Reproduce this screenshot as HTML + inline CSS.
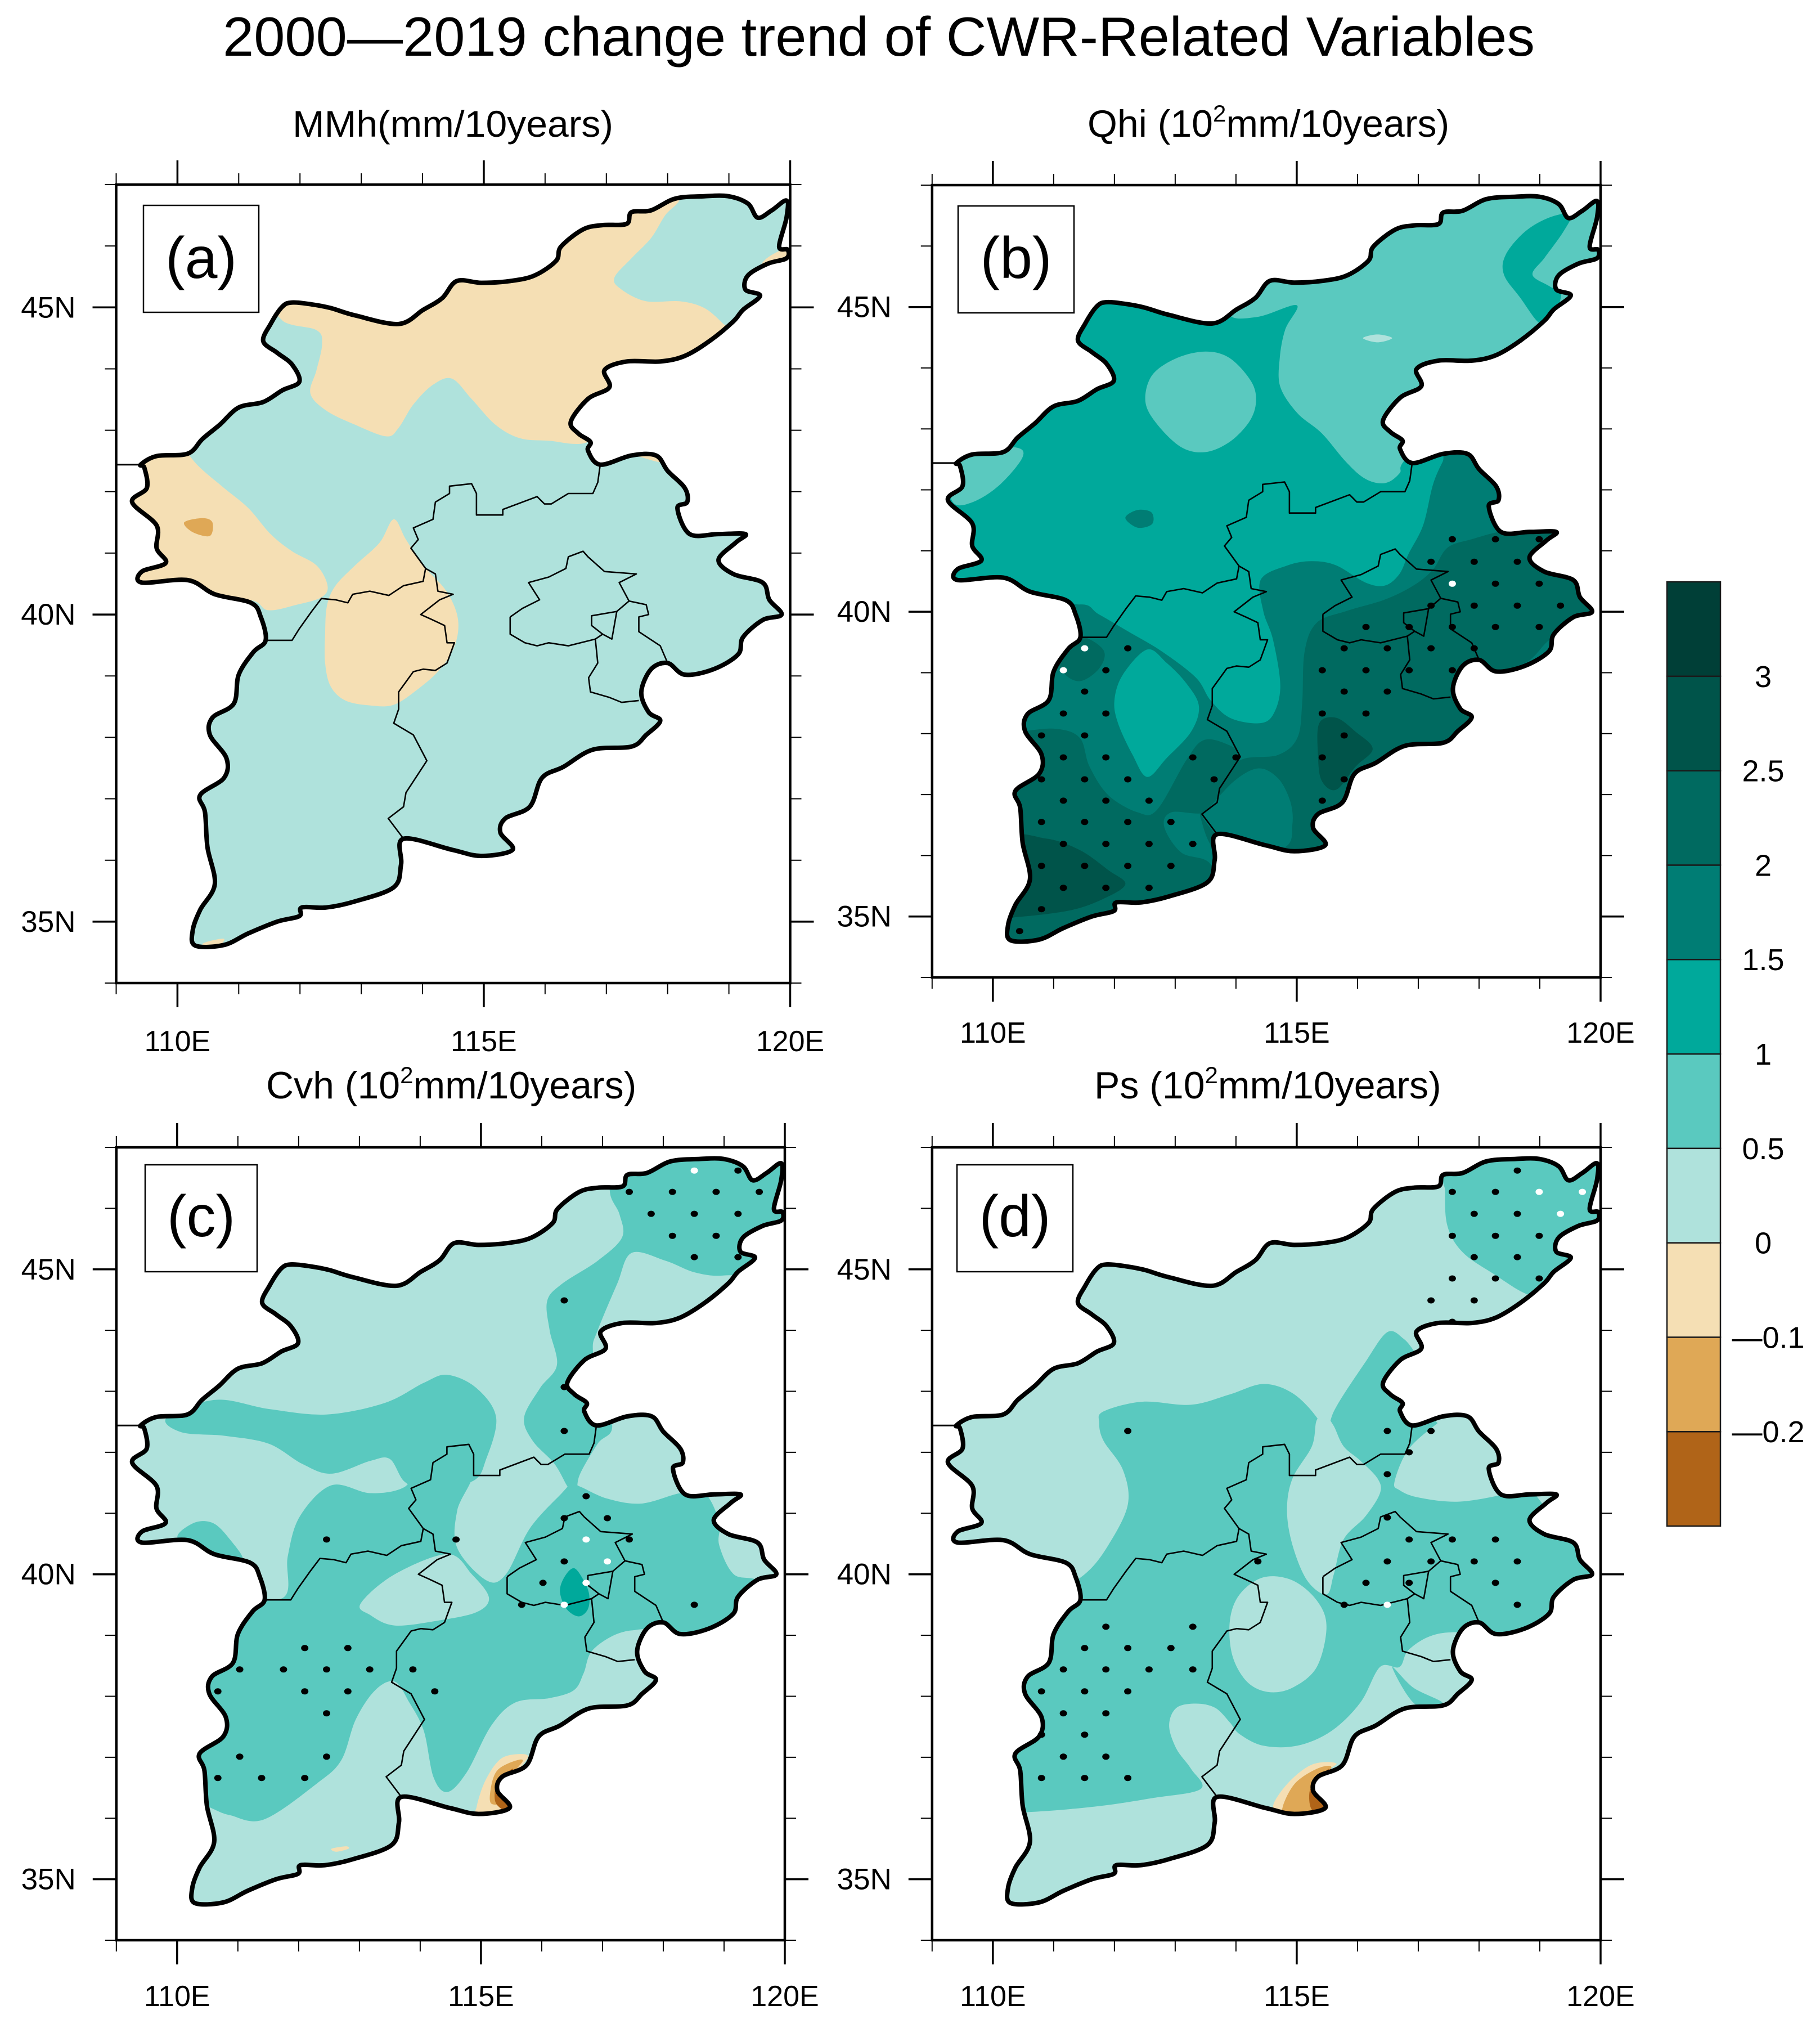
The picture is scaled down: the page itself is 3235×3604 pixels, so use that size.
<!DOCTYPE html>
<html lang="en">
<head>
<meta charset="utf-8">
<title>2000-2019 change trend of CWR-Related Variables</title>
<style>
html,body{margin:0;padding:0;background:#fff;}
svg{display:block;}
text{font-family:"Liberation Sans",sans-serif;fill:#000;}
</style>
</head>
<body>
<svg id="chart" xmlns="http://www.w3.org/2000/svg" width="3235" height="3604" viewBox="0 0 3235 3604">
<rect x="0" y="0" width="3235" height="3604" fill="#ffffff"/>
<text x="396" y="99" font-size="98" textLength="2332" lengthAdjust="spacingAndGlyphs">2000—2019 change trend of CWR-Related Variables</text>
<text x="520" y="243" font-size="66" textLength="570" lengthAdjust="spacingAndGlyphs">MMh(mm/10years)</text>
<text x="1933" y="243" font-size="68">Qhi (10<tspan font-size="42" dy="-27">2</tspan><tspan dy="27">mm/10years)</tspan></text>
<text x="473" y="1952" font-size="68">Cvh (10<tspan font-size="42" dy="-27">2</tspan><tspan dy="27">mm/10years)</tspan></text>
<text x="1945" y="1952" font-size="68">Ps (10<tspan font-size="42" dy="-27">2</tspan><tspan dy="27">mm/10years)</tspan></text>
</svg>
<script>
// ---------- legend data ----------
const bandColors = ['#b06418','#dfa856','#f5dfb4','#afe2dc','#5ac9bf','#00a99b','#007d74','#006a60','#00544a','#003f37'];
const bandLabels = ['\u20140.2','\u20140.1','0','0.5','1','1.5','2','2.5','3'];
const lonTicks = [109,110,111,112,113,114,115,116,117,118,119,120];
const latTicks = [34,35,36,37,38,39,40,41,42,43,44,45,46,47];
const lonLabelled = [110,115,120];
const latLabelled = [35,40,45];

// ---------- shared geography (lon, lat) ----------
const regionOutline = [[109.40,42.44],[109.66,42.58],[110.17,42.62],[110.41,42.86],[110.69,43.09],[111.00,43.37],[111.40,43.46],[111.71,43.65],[111.99,43.79],[111.87,44.07],[111.63,44.26],[111.40,44.45],[111.52,44.73],[111.71,45.01],[111.87,45.08],[112.19,45.05],[112.50,44.99],[112.90,44.87],[113.61,44.73],[114.01,44.96],[114.32,45.15],[114.56,45.43],[114.96,45.40],[115.43,45.43],[115.83,45.52],[116.18,45.76],[116.26,45.99],[116.62,46.27],[116.94,46.34],[117.33,46.36],[117.41,46.55],[117.73,46.58],[118.12,46.77],[118.60,46.81],[118.99,46.81],[119.31,46.69],[119.47,46.46],[119.70,46.58],[119.94,46.74],[119.94,46.46],[119.82,45.99],[119.96,45.94],[119.94,45.80],[119.63,45.71],[119.31,45.52],[119.27,45.29],[119.51,45.19],[119.23,44.96],[119.07,44.77],[118.68,44.45],[118.28,44.21],[117.88,44.12],[117.33,44.12],[116.97,43.98],[117.05,43.70],[116.70,43.51],[116.42,43.14],[116.54,42.95],[116.74,42.81],[116.70,42.67],[116.90,42.44],[117.41,42.59],[117.81,42.59],[118.00,42.34],[118.28,42.06],[118.32,41.83],[118.16,41.73],[118.36,41.31],[118.83,41.31],[119.27,41.31],[119.11,41.17],[118.83,40.89],[119.07,40.66],[119.55,40.52],[119.66,40.24],[119.86,40.00],[119.55,39.91],[119.23,39.63],[119.15,39.35],[118.75,39.11],[118.28,39.02],[118.00,39.21],[117.73,39.11],[117.57,38.74],[117.69,38.41],[117.88,38.27],[117.65,38.04],[117.41,37.85],[116.78,37.80],[116.30,37.52],[115.95,37.34],[115.75,36.87],[115.35,36.68],[115.27,36.45],[115.47,36.17],[114.96,36.07],[114.48,36.17],[113.69,36.35],[113.65,35.93],[113.53,35.56],[112.90,35.33],[112.43,35.23],[112.03,35.23],[111.99,35.09],[111.63,35.00],[111.16,34.81],[110.76,34.62],[110.29,34.61],[110.25,34.86],[110.37,35.19],[110.61,35.61],[110.49,36.21],[110.45,36.78],[110.37,37.06],[110.76,37.34],[110.80,37.66],[110.53,38.04],[110.57,38.32],[110.92,38.55],[111.00,39.02],[111.24,39.39],[111.44,39.58],[111.36,39.96],[111.20,40.19],[110.61,40.33],[110.17,40.56],[109.42,40.52],[109.42,40.70],[109.81,40.84],[109.66,41.08],[109.66,41.45],[109.26,41.83],[109.50,42.06],[109.46,42.39]];
const westSpur = [[109.00,42.44],[109.40,42.44]];
const shanxiBorder = [[111.44,39.58],[111.87,39.58],[111.99,39.77],[112.19,40.05],[112.35,40.26],[112.58,40.24],[112.78,40.19],[112.86,40.33],[113.14,40.38],[113.45,40.31],[113.69,40.47],[114.01,40.54],[114.05,40.75],[114.21,40.66],[114.25,40.38],[114.50,40.33],[114.28,40.24],[113.97,40.00],[114.17,39.91],[114.36,39.82],[114.40,39.54],[114.52,39.54],[114.40,39.21],[114.21,39.09],[114.01,39.11],[113.85,39.07],[113.61,38.74],[113.61,38.46],[113.53,38.23],[113.85,38.04],[114.07,37.62],[113.73,37.10],[113.69,36.87],[113.44,36.68],[113.69,36.35]];
const hebeiNorthBorder = [[114.05,40.75],[113.81,41.08],[113.93,41.22],[113.85,41.41],[114.17,41.55],[114.21,41.83],[114.44,41.97],[114.44,42.09],[114.80,42.13],[114.88,41.97],[114.88,41.62],[115.31,41.62],[115.31,41.71],[115.87,41.92],[115.99,41.80],[116.10,41.80],[116.38,41.97],[116.78,41.97],[116.86,42.15],[116.90,42.44]];
const beijingBorder = [[115.43,39.96],[115.63,40.10],[115.91,40.24],[115.73,40.52],[116.06,40.61],[116.34,40.75],[116.38,40.94],[116.62,41.03],[116.70,40.94],[116.97,40.70],[117.49,40.66],[117.21,40.52],[117.37,40.22],[117.17,40.05],[116.76,39.98],[116.76,39.82],[116.94,39.68],[116.82,39.60],[116.38,39.49],[116.06,39.54],[115.87,39.49],[115.67,39.54],[115.43,39.68],[115.43,39.96]];
const langfangBorder = [[117.17,40.05],[117.09,39.60],[116.94,39.68]];
const tianjinEastBorder = [[117.37,40.22],[117.65,40.16],[117.69,40.00],[117.53,39.96],[117.53,39.72],[117.88,39.49],[118.00,39.21]];
const tianjinWestBorder = [[116.82,39.60],[116.86,39.21],[116.71,38.97],[116.74,38.74],[117.05,38.65],[117.25,38.57],[117.53,38.60]];
const borders = [shanxiBorder,hebeiNorthBorder,beijingBorder,langfangBorder,tianjinEastBorder,tianjinWestBorder];

// ---------- panel (a) contours ----------
const aNorthBand = [[111.71,44.79],[112.27,44.63],[112.36,44.40],[112.27,43.98],[112.17,43.60],[112.43,43.32],[112.90,43.09],[113.41,42.90],[113.61,43.04],[113.85,43.42],[114.17,43.74],[114.48,43.84],[114.80,43.51],[115.19,43.09],[115.59,42.87],[116.06,42.83],[116.70,42.81],[117.17,43.32],[117.96,43.88],[118.99,44.63],[118.91,44.73],[118.60,44.99],[118.20,45.10],[117.65,45.10],[117.25,45.29],[117.13,45.48],[117.41,45.80],[117.73,46.13],[117.96,46.50],[118.20,46.78],[117.96,47.07],[116.38,46.88],[114.01,45.57],[111.63,45.29]];
const aNorthEastCorner = [[119.51,45.66],[119.66,45.83],[119.96,45.94],[120.1,45.66],[119.55,45.48]];
const aHebeiSliver = [[117.41,42.62],[117.81,42.67],[117.92,42.48],[117.57,42.56]];
const aWestLobe = [[110.17,42.62],[110.37,42.39],[110.76,42.06],[111.16,41.73],[111.52,41.31],[111.87,41.03],[112.27,40.80],[112.45,40.47],[112.35,40.28],[111.95,40.16],[111.48,40.07],[111.16,40.24],[110.05,40.24],[109.18,40.42],[109.10,41.83],[109.26,42.58],[110.05,42.76]];
const aWestCore = [[110.11,41.50],[110.41,41.57],[110.57,41.50],[110.53,41.28],[110.25,41.34]];
const aCentralLobe = [[113.53,41.55],[113.73,41.22],[114.01,40.80],[114.36,40.42],[114.55,40.05],[114.58,39.72],[114.48,39.39],[114.25,39.07],[113.93,38.79],[113.53,38.53],[113.14,38.52],[112.74,38.60],[112.50,38.83],[112.41,39.21],[112.41,39.68],[112.44,40.14],[112.58,40.47],[112.90,40.80],[113.30,41.17]];
const aSouthSliver = [[110.41,34.64],[110.76,34.72],[110.61,34.55]];

// ---------- panel (b) contours ----------
const bNorthEast = [[113.90,44.87],[114.37,44.84],[115.00,45.03],[114.81,44.63],[114.72,44.16],[114.73,43.69],[115.01,43.26],[115.41,42.93],[115.81,42.46],[116.13,42.18],[116.45,42.11],[116.69,42.27],[116.84,42.56],[118.04,43.69],[119.24,44.73],[120.43,45.58],[120.43,46.99],[117.24,46.99],[114.06,45.39]];
const bNorthEastStrip = [[119.51,46.52],[119.16,46.47],[118.76,46.24],[118.44,45.86],[118.41,45.53],[118.68,45.15],[119.0,44.73],[119.20,44.82],[119.35,45.20],[119.16,45.34],[118.88,45.53],[119.08,45.81],[119.39,46.24]];
const bNorthBlob = [[113.50,44.27],[113.90,44.16],[114.25,43.78],[114.33,43.45],[114.22,43.12],[113.90,42.79],[113.50,42.62],[113.10,42.70],[112.70,43.08],[112.51,43.45],[112.62,43.88],[113.02,44.16]];
const bWestLobe = [[109.34,41.80],[109.67,41.80],[110.11,42.08],[110.49,42.54],[110.35,42.70],[109.67,42.65],[109.27,42.37]];
const bSliver = [[116.09,44.49],[116.33,44.55],[116.57,44.49],[116.33,44.42]];
const bSmallPatch = [[112.18,41.54],[112.38,41.67],[112.61,41.63],[112.62,41.44],[112.38,41.38]];
const bSouthBand = [[111.43,40.12],[111.74,39.96],[112.22,39.68],[112.78,39.35],[113.34,38.92],[113.58,38.55],[113.90,38.26],[114.37,38.17],[114.61,38.31],[114.73,38.78],[114.61,39.54],[114.45,40.01],[114.41,40.53],[114.85,40.76],[115.25,40.83],[115.65,40.76],[116.13,40.48],[116.45,40.43],[116.69,40.62],[116.84,40.95],[117.08,41.42],[117.24,42.08],[117.40,42.46],[117.56,42.75],[118.84,42.75],[120.43,40.86],[120.43,38.03],[116.45,34.25],[110.07,34.25],[109.27,38.03],[110.47,39.92]];
const bShanxiBlob = [[112.54,39.38],[112.86,39.16],[113.18,38.83],[113.39,38.45],[113.26,38.03],[112.86,37.60],[112.54,37.29],[112.30,37.65],[112.06,38.17],[112.0,38.55],[112.14,38.97]];
const bEastBand = [[117.24,40.69],[117.48,41.05],[117.88,41.19],[118.44,41.33],[119.24,41.38],[120.03,41.05],[120.27,40.01],[119.63,39.82],[119.16,39.54],[118.84,39.21],[118.36,38.92],[118.04,38.03],[116.45,36.14],[114.06,35.86],[113.42,36.61],[113.66,37.08],[114.06,37.56],[114.69,37.65],[115.01,37.93],[115.09,38.50],[115.13,39.35],[115.33,39.82],[115.81,40.01],[116.45,40.20],[116.92,40.43]];
const bWestBand = [[110.07,38.03],[110.39,38.03],[111.03,38.08],[111.43,37.93],[111.59,37.46],[111.90,36.99],[112.38,36.71],[112.70,36.75],[113.18,37.56],[113.46,37.89],[113.82,37.84],[114.02,37.65],[113.82,37.08],[113.50,36.71],[112.94,36.71],[112.82,36.47],[113.10,36.05],[113.58,35.86],[113.74,35.20],[110.87,34.25],[110.07,34.25]];
const bWestTop = [[111.03,39.44],[111.43,39.60],[111.82,39.37],[111.75,39.07],[111.43,38.86],[111.15,39.02]];
const bLowerBlob = [[113.58,36.80],[113.98,37.23],[114.37,37.43],[114.69,37.27],[114.89,36.90],[114.93,36.52],[114.81,36.14],[114.06,36.05],[113.46,36.61]];
const bSouthCore = [[110.23,36.24],[110.87,36.28],[111.43,36.09],[111.90,35.76],[112.18,35.53],[111.82,35.29],[111.27,35.10],[110.39,34.99],[110.07,35.01]];
const bEastCore = [[115.37,38.17],[115.65,38.26],[115.97,38.03],[116.25,37.75],[115.97,37.46],[115.65,37.08],[115.41,37.23],[115.35,37.65]];

// ---------- panel (c) contours ----------
const cWestBand = [[109.83,42.57],[110.63,42.86],[111.51,42.71],[112.46,42.62],[113.42,42.81],[114.06,43.14],[114.45,43.27],[114.93,43.05],[115.25,42.57],[115.09,41.90],[114.85,41.52],[114.06,41.43],[113.74,41.52],[113.50,41.89],[113.18,41.86],[112.54,41.65],[112.06,41.81],[111.51,42.14],[110.79,42.27],[110.07,42.33]];
const cSouthBig = [[111.75,39.62],[111.82,40.29],[112.02,40.95],[112.54,41.46],[113.18,41.33],[113.74,41.43],[114.06,41.81],[114.85,41.71],[114.61,41.05],[114.61,40.43],[115.09,39.90],[115.41,40.0],[115.81,40.76],[116.33,41.33],[116.49,41.48],[116.65,41.43],[117.08,41.24],[117.64,41.16],[118.28,41.33],[118.68,41.33],[118.92,40.86],[118.92,40.48],[119.16,40.0],[119.59,39.86],[119.7,39.2],[118.84,38.8],[117.88,39.05],[117.32,39.05],[116.84,38.76],[116.69,38.38],[116.53,38.10],[116.13,37.97],[115.57,37.90],[115.17,37.52],[114.77,36.76],[114.45,36.43],[114.22,36.67],[114.06,37.43],[113.82,37.90],[113.58,38.24],[113.26,38.10],[112.94,37.62],[112.70,36.95],[112.30,36.57],[111.43,35.98],[110.87,36.05],[110.51,36.19],[109.67,36.57],[109.67,38.95],[110.87,39.62]];
const cNorthStrip = [[117.12,46.29],[117.28,45.90],[117.32,45.52],[116.92,45.14],[116.33,44.76],[116.09,44.48],[116.13,44.0],[116.25,43.43],[115.97,43.05],[115.71,42.57],[115.85,42.19],[116.21,41.81],[116.43,41.43],[116.57,41.29],[116.62,41.62],[116.92,42.14],[117.16,42.43],[116.92,43.24],[116.84,43.71],[116.92,44.0],[117.24,44.76],[117.48,45.27],[118.04,45.14],[118.52,44.95],[119.0,44.90],[119.63,45.05],[120.27,46.10],[120.03,46.95],[117.24,46.95]];
const cPaleBlob = [[113.02,39.52],[113.58,40.0],[114.45,40.33],[114.85,40.0],[115.13,39.62],[114.93,39.38],[114.29,39.24],[113.58,39.16],[113.18,39.33]];
const cWestBlob = [[110.01,40.59],[110.27,40.84],[110.59,40.84],[110.87,40.57],[111.07,40.24],[110.55,40.38]];
const cHebeiPale = [[116.92,38.71],[117.24,39.0],[117.72,39.10],[117.84,38.95],[117.60,38.52],[117.16,38.57]];
const cBeijingCore = [[116.53,40.10],[116.69,39.90],[116.78,39.67],[116.76,39.43],[116.61,39.31],[116.41,39.43],[116.30,39.71],[116.37,39.95]];
const cCoastWheat = [[114.93,36.19],[115.05,36.57],[115.25,36.90],[115.45,37.03],[115.77,37.03],[115.65,36.81],[115.49,36.38],[115.49,36.10],[114.96,36.10]];
const cCoastTan = [[115.16,36.48],[115.25,36.76],[115.45,36.90],[115.69,36.95],[115.49,36.67],[115.41,36.29],[115.17,36.24]];
const cCoastBrown = [[115.24,36.52],[115.33,36.67],[115.53,36.81],[115.41,36.57],[115.49,36.10],[115.25,36.24]];
const cTinySliver = [[112.54,35.50],[112.78,35.54],[112.82,35.50],[112.62,35.45]];

// ---------- panel (d) contours ----------
const dNorthEast = [[117.44,46.29],[117.48,45.71],[117.72,45.29],[118.20,44.95],[118.88,44.57],[119.24,44.86],[120.43,45.62],[120.03,46.95],[117.48,46.95]];
const dBigBand = [[111.75,42.48],[111.82,42.67],[112.46,42.83],[113.26,42.78],[113.90,42.95],[114.45,43.12],[114.93,42.97],[115.33,42.57],[115.49,42.19],[115.61,42.67],[116.13,43.48],[116.49,43.97],[116.76,43.86],[116.96,43.62],[117.24,43.24],[117.32,42.48],[118.04,42.76],[118.84,41.43],[119.63,40.48],[120.27,39.90],[119.24,39.05],[118.28,38.95],[117.80,39.05],[117.24,39.0],[116.84,38.76],[116.69,38.48],[116.37,38.48],[116.05,37.90],[115.57,37.43],[115.01,37.19],[114.45,37.19],[114.06,37.38],[113.90,37.57],[113.66,37.81],[113.34,37.88],[113.02,37.81],[112.90,37.52],[113.02,37.14],[113.26,36.81],[113.42,36.48],[112.62,36.33],[111.67,36.19],[110.55,36.10],[109.67,36.10],[109.67,38.95],[110.87,39.62],[111.51,40.0],[111.90,40.48],[112.22,41.14],[112.14,41.71],[111.82,42.19]];
const dCentralPale = [[115.33,42.53],[115.49,42.57],[115.61,42.43],[115.77,42.10],[116.05,41.86],[116.33,41.57],[116.37,41.33],[116.13,40.95],[115.77,40.57],[115.61,40.0],[115.49,39.67],[115.17,39.90],[114.93,40.48],[114.84,41.05],[114.93,41.57],[115.25,42.10]];
const dHebeiLobe = [[116.61,41.52],[116.84,42.05],[117.32,42.48],[117.72,42.76],[118.84,42.76],[118.84,41.43],[118.32,41.29],[117.64,41.19],[117.0,41.26],[116.69,41.38]];
const dPaleBlob = [[114.45,39.95],[114.93,39.90],[115.33,39.57],[115.49,39.14],[115.33,38.48],[114.93,38.14],[114.53,38.07],[114.18,38.24],[113.94,38.67],[113.90,39.24],[114.06,39.67]];
const dHebeiPale = [[116.88,38.76],[117.24,39.0],[117.64,39.02],[117.68,38.71],[117.52,38.62],[117.16,38.67]];
const dCoastWedge = [[116.57,38.48],[116.92,38.14],[117.40,37.89],[116.95,37.87]];
const dCoastWheat = [[114.61,36.19],[114.85,36.57],[115.25,36.88],[115.65,36.90],[115.49,36.71],[115.49,36.10],[114.85,36.10]];
const dCoastTan = [[114.77,36.19],[114.97,36.57],[115.33,36.81],[115.57,36.84],[115.41,36.57],[115.41,36.10],[114.85,36.10]];
const dCoastBrown = [[115.21,36.43],[115.33,36.62],[115.53,36.81],[115.41,36.57],[115.49,36.10],[115.25,36.14]];

// ---------- significance stippling: [lat, [lons...]] ----------
const bDots = [[41.19,[117.56,118.27,118.99]],[40.82,[117.21,117.92,118.63]],[40.46,[118.27,118.99]],[40.10,[117.21,117.92,118.63,119.34]],[39.75,[116.14,116.85,117.56,118.27,118.99]],[39.40,[112.22,115.78,116.49,117.21,117.92]],[39.04,[111.86,115.42,116.14,116.85,117.56]],[38.69,[111.51,115.78,116.49]],[38.33,[111.16,111.86,115.42,116.14]],[37.97,[110.80,111.51,115.78]],[37.61,[111.16,111.86,113.29,114.0,115.42]],[37.25,[110.80,111.51,112.22,113.64,115.78]],[36.90,[111.16,111.86,112.57,115.42]],[36.55,[110.80,111.51,112.22,112.93]],[36.19,[111.16,111.86,112.57,113.29]],[35.83,[110.80,111.51,112.22,112.93]],[35.47,[111.16,111.86,112.57]],[35.12,[110.80]],[34.76,[110.44]]];
const bWhiteDots = [[40.46,[117.56]],[39.40,[111.51]],[39.04,[111.16]]];
const cDots = [[46.62,[119.23]],[46.27,[117.44,118.15,118.87,119.58]],[45.91,[117.80,118.51,119.23]],[45.55,[118.15,118.87]],[45.20,[118.51,119.23]],[44.49,[116.37]],[43.07,[116.37]],[42.35,[116.37]],[41.28,[116.73]],[40.92,[116.37,117.08]],[40.57,[112.46,114.59,117.44]],[40.21,[116.37]],[39.86,[116.02]],[39.50,[115.67,118.51]],[38.79,[112.10,112.81]],[38.44,[111.03,111.75,112.46,113.17,113.88]],[38.08,[110.67,112.10,112.81,114.24]],[37.72,[112.46]],[37.01,[111.03,112.46]],[36.66,[110.67,111.39,112.10]]];
const cWhiteDots = [[46.62,[118.51]],[40.57,[116.73]],[40.21,[117.08]],[39.86,[116.73]],[39.50,[116.37]]];
const dDots = [[46.62,[118.63]],[46.27,[117.56,118.27]],[45.91,[117.92,118.63]],[45.55,[117.56,118.27,118.99]],[45.20,[117.92,118.63]],[44.85,[117.56,118.27,118.99]],[44.49,[117.21,117.92]],[44.14,[117.56]],[42.35,[112.22,116.49,117.21]],[42.00,[116.85]],[41.64,[116.49]],[40.93,[116.49]],[40.57,[116.85,117.56,118.27]],[40.21,[114.36,116.49,117.21,117.92,118.63]],[39.86,[116.14,116.85,118.27]],[39.50,[115.78,118.63]],[39.14,[111.86,113.29]],[38.79,[111.51,112.22,112.93]],[38.44,[111.16,111.86,112.57,113.29]],[38.08,[110.80,111.51,112.22]],[37.72,[111.16,111.86]],[37.37,[110.80,111.51]],[37.01,[111.16,111.86]],[36.66,[110.80,111.51,112.22]]];
const dWhiteDots = [[46.27,[118.99,119.70]],[45.91,[119.34]],[39.50,[116.49]]];

// ---------- panel layer order: [contour, colour band index] ----------
const aLayers = [[aNorthBand,2],[aNorthEastCorner,2],[aHebeiSliver,2],[aWestLobe,2],[aWestCore,1],[aCentralLobe,2],[aSouthSliver,2]];
const bLayers = [[bNorthEast,4],[bNorthEastStrip,5],[bNorthBlob,4],[bWestLobe,4],[bSliver,3],[bSmallPatch,6],[bSouthBand,6],[bShanxiBlob,5],[bEastBand,7],[bWestBand,7],[bWestTop,7],[bLowerBlob,6],[bSouthCore,8],[bEastCore,8]];
const cLayers = [[cWestBand,4],[cSouthBig,4],[cNorthStrip,4],[cPaleBlob,3],[cWestBlob,4],[cHebeiPale,3],[cBeijingCore,5],[cCoastWheat,2],[cCoastTan,1],[cCoastBrown,0],[cTinySliver,2]];
const dLayers = [[dNorthEast,4],[dBigBand,4],[dCentralPale,3],[dHebeiLobe,3],[dPaleBlob,3],[dHebeiPale,3],[dCoastWedge,4],[dCoastWheat,2],[dCoastTan,1],[dCoastBrown,0]];

const SVGNS = 'http://www.w3.org/2000/svg';
const svg = document.getElementById('chart');
function make(tag, attrs, parent) {
  const node = document.createElementNS(SVGNS, tag);
  for (const k in attrs) node.setAttribute(k, attrs[k]);
  parent.appendChild(node);
  return node;
}

const panels = [
  {id:'a', left:206.5, right:1404.5, top:328, bottom:1747, base:3, layers:aLayers, dots:[], white:[], box:[255,365,205,190], label:'(a)', labelY:494, tickY:1868},
  {id:'b', left:1656.8, right:2845, top:329, bottom:1737, base:5, layers:bLayers, dots:bDots, white:bWhiteDots, box:[1703,366,206,190], label:'(b)', labelY:494, tickY:1853},
  {id:'c', left:206.8, right:1395, top:2039, bottom:3448, base:3, layers:cLayers, dots:cDots, white:cWhiteDots, box:[258,2070,199,190], label:'(c)', labelY:2197, tickY:3565},
  {id:'d', left:1656.8, right:2845, top:2039, bottom:3448, base:3, layers:dLayers, dots:dDots, white:dWhiteDots, box:[1701,2070,206,190], label:'(d)', labelY:2197, tickY:3565}
];

function smoothClosed(pts) {
  const n = pts.length;
  let d = 'M' + pts[0][0].toFixed(1) + ' ' + pts[0][1].toFixed(1);
  for (let i = 0; i < n; i++) {
    const p0 = pts[(i - 1 + n) % n], p1 = pts[i], p2 = pts[(i + 1) % n], p3 = pts[(i + 2) % n];
    const c1x = p1[0] + (p2[0] - p0[0]) / 6, c1y = p1[1] + (p2[1] - p0[1]) / 6;
    const c2x = p2[0] - (p3[0] - p1[0]) / 6, c2y = p2[1] - (p3[1] - p1[1]) / 6;
    d += 'C' + c1x.toFixed(1) + ' ' + c1y.toFixed(1) + ' ' + c2x.toFixed(1) + ' ' + c2y.toFixed(1) + ' ' + p2[0].toFixed(1) + ' ' + p2[1].toFixed(1);
  }
  return d + 'Z';
}

panels.forEach(function (p) {
  const xScale = function (lon) { return p.left + (lon - 109) / 11 * (p.right - p.left); };
  const yScale = function (lat) { return p.top + (47 - lat) / 13 * (p.bottom - p.top); };
  const project = function (list) { return list.map(function (q) { return [xScale(q[0]), yScale(q[1])]; }); };
  const toPoints = function (list) { return project(list).map(function (q) { return q[0].toFixed(1) + ',' + q[1].toFixed(1); }).join(' '); };
  const outlinePath = smoothClosed(project(regionOutline));

  const group = make('g', {}, svg);
  
  

  const defs = make('defs', {}, group);
  const clip = make('clipPath', {id:'clip-' + p.id}, defs);
  make('path', {d: outlinePath}, clip);

  const baseShape = make('path', {d: outlinePath, fill: bandColors[p.base]}, group);
  
  

  const contourGroup = make('g', {'clip-path': 'url(#clip-' + p.id + ')'}, group);
  
  
  p.layers.forEach(function (layer) {
    const shape = make('path', {d: smoothClosed(project(layer[0])), fill: bandColors[layer[1]]}, contourGroup);
    
    
  });

  borders.forEach(function (line) {
    const border = make('polyline', {points: toPoints(line), fill: 'none', stroke: '#000', 'stroke-width': 2.6, 'stroke-linejoin': 'round'}, group);
    
    
  });

  const outline = make('path', {d: outlinePath, fill: 'none', stroke: '#000', 'stroke-width': 8, 'stroke-linejoin': 'round'}, group);
  
  

  const spur = make('polyline', {points: toPoints(westSpur), fill: 'none', stroke: '#000', 'stroke-width': 3}, group);
  
  

  p.dots.forEach(function (row) {
    row[1].forEach(function (lon) {
      const dot = make('ellipse', {cx: xScale(lon).toFixed(1), cy: yScale(row[0]).toFixed(1), rx: 6.5, ry: 5.5, fill: '#000'}, group);
      
      
    });
  });
  p.white.forEach(function (row) {
    row[1].forEach(function (lon) {
      const dot = make('ellipse', {cx: xScale(lon).toFixed(1), cy: yScale(row[0]).toFixed(1), rx: 6.5, ry: 5.5, fill: '#fff'}, group);
      
      
    });
  });

  const frame = make('rect', {x: p.left, y: p.top, width: p.right - p.left, height: p.bottom - p.top, fill: 'none', stroke: '#000', 'stroke-width': 4.5}, group);
  
  

  lonTicks.forEach(function (lon) {
    const major = lonLabelled.indexOf(lon) >= 0;
    const len = major ? 43 : 20;
    const x = xScale(lon);
    const topTick = make('line', {x1: x, x2: x, y1: p.top, y2: p.top - len, stroke: '#000', 'stroke-width': major ? 3.5 : 2}, group);
    
    
    const bottomTick = make('line', {x1: x, x2: x, y1: p.bottom, y2: p.bottom + len, stroke: '#000', 'stroke-width': major ? 3.5 : 2}, group);
    
    
    if (major) {
      const label = make('text', {x: x, y: p.tickY, 'font-size': 52, 'text-anchor': 'middle'}, group);
      label.textContent = lon + 'E';
      
      
    }
  });

  latTicks.forEach(function (lat) {
    const major = latLabelled.indexOf(lat) >= 0;
    const len = major ? 42 : 20;
    const y = yScale(lat);
    const leftTick = make('line', {x1: p.left, x2: p.left - len, y1: y, y2: y, stroke: '#000', 'stroke-width': major ? 3.5 : 2}, group);
    
    
    const rightTick = make('line', {x1: p.right, x2: p.right + len, y1: y, y2: y, stroke: '#000', 'stroke-width': major ? 3.5 : 2}, group);
    
    
    if (major) {
      const label = make('text', {x: p.left - 72, y: y + 18, 'font-size': 53, 'text-anchor': 'end'}, group);
      label.textContent = lat + 'N';
      
      
    }
  });

  const box = make('rect', {x: p.box[0], y: p.box[1], width: p.box[2], height: p.box[3], fill: '#fff', stroke: '#000', 'stroke-width': 2.5}, group);
  
  
  const letter = make('text', {x: p.box[0] + p.box[2] / 2, y: p.labelY, 'font-size': 104, 'text-anchor': 'middle'}, group);
  letter.textContent = p.label;
  
  
});

// ---------- colour bar ----------
const barLeft = 2963, barRight = 3058, barTop = 1034, barBottom = 2712;
const barGroup = make('g', {}, svg);


const barStep = (barBottom - barTop) / bandColors.length;
bandColors.forEach(function (color, i) {
  const y = barBottom - (i + 1) * barStep;
  const seg = make('rect', {x: barLeft, y: y, width: barRight - barLeft, height: barStep, fill: color, stroke: '#1a1a1a', 'stroke-width': 2.5}, barGroup);
  
  
});
bandLabels.forEach(function (txt, i) {
  const y = barBottom - (i + 1) * barStep;
  const isNeg = txt.charAt(0) === '\u2014';
  const lab = make('text', {x: isNeg ? 3143 : 3134, y: y + 19, 'font-size': 54, 'text-anchor': 'middle'}, barGroup);
  lab.textContent = txt;
  
  
});
</script>
</body>
</html>
